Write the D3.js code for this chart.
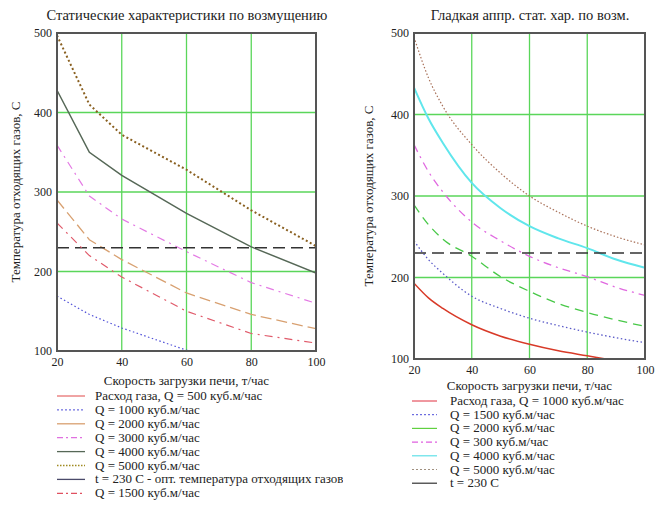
<!DOCTYPE html>
<html>
<head>
<meta charset="utf-8">
<script src="https://cdn.jsdelivr.net/npm/d3@7"></script>
<style>
  html, body { margin: 0; padding: 0; background: #fff; }
  svg text { font-family: "Liberation Serif", "Times New Roman", "DejaVu Serif", serif !important; }
</style>
</head>
<body>
<svg id="chart" width="663" height="527"></svg>
<script>
// Load rate of the furnace, t/h
const xTicks = [20, 40, 60, 80, 100];
const yTicks = [100, 200, 300, 400, 500];
const optimalTemp = 230;

// Left panel: static characteristics (piecewise linear)
const loadLeft = [20, 30, 40, 60, 80, 100];
const leftQ500 = [92, 82, 74, 62, 54, 48];
const leftQ1000 = [169, 146, 129, 101, 84, 72];
const leftQ2000 = [290, 240, 215, 173, 146, 128];
const leftQ3000 = [359, 295, 266, 225, 186, 160];
const leftQ4000 = [428, 350, 321, 273, 231, 198];
const leftQ5000 = [497, 410, 372, 328, 277, 232];
const leftQ1500 = [261, 220, 193, 150, 122, 110];

// Right panel: smooth approximation
const loadRight = [20, 25, 30, 40, 50, 60, 70, 80, 90, 100];
const rightQ1000 = [193, 175, 162, 142, 128, 118, 110, 104, 98, 94];
const rightQ1500 = [245, 222, 205, 177, 162, 150, 141, 133, 126, 120];
const rightQ2000 = [289, 265, 247, 226, 201, 183, 168, 157, 148, 140];
const rightQ3000 = [363, 330, 305, 268, 245, 226, 212, 201, 188, 178];
const rightQ4000 = [433, 395, 365, 316, 285, 263, 248, 236, 222, 212];
const rightQ5000 = [495, 445, 410, 363, 328, 300, 280, 263, 250, 240];

const leftLabels = [
  "Расход газа, Q = 500 куб.м/час",
  "Q = 1000 куб.м/час",
  "Q = 2000 куб.м/час",
  "Q = 3000 куб.м/час",
  "Q = 4000 куб.м/час",
  "Q = 5000 куб.м/час",
  "t = 230 C - опт. температура отходящих газов",
  "Q = 1500 куб.м/час"
];
const rightLabels = [
  "Расход газа, Q = 1000 куб.м/час",
  "Q = 1500 куб.м/час",
  "Q = 2000 куб.м/час",
  "Q = 300 куб.м/час",
  "Q = 4000 куб.м/час",
  "Q = 5000 куб.м/час",
  "t = 230 C"
];

const svg = d3.select("#chart");

const panels = [
  {
    id: "L",
    title: "Статические характеристики по возмущению",
    titleX: 187,
    x0: 57, x1: 316, y0: 351, y1: 33,
    curve: d3.curveLinear,
    loads: loadLeft,
    series: [
      { v: leftQ500, color: "#e04040", w: 1, dash: null },
      { v: leftQ1000, color: "#5050d8", w: 1.2, dash: "1.5,2.5" },
      { v: leftQ2000, color: "#d8a070", w: 1.3, dash: "11,5" },
      { v: leftQ3000, color: "#e47ae4", w: 1.2, dash: "8,5,2,5" },
      { v: leftQ4000, color: "#566857", w: 1.5, dash: null },
      { v: leftQ5000, color: "#8a6020", w: 2, dash: "2,2.5" },
      { v: null, color: "#333", w: 1.5, dash: "12,6" },
      { v: leftQ1500, color: "#e05a6a", w: 1.2, dash: "8,5,2,5" }
    ],
    legendStyles: [
      { color: "#e04848", w: 1, dash: null },
      { color: "#4a4ad8", w: 1, dash: "2,2" },
      { color: "#d8a070", w: 1.3, dash: null },
      { color: "#e070e0", w: 1.2, dash: "6,3,2,3" },
      { color: "#566857", w: 1.3, dash: null },
      { color: "#a08a20", w: 1.5, dash: "1.5,1.5" },
      { color: "#4a4a6a", w: 1.3, dash: null },
      { color: "#e05060", w: 1.2, dash: "6,3,2,3" }
    ],
    labels: leftLabels,
    yLabelX: 20,
    xLabelY: 385,
    legendY: 400, legendStep: 13.9,
    lineX0: 57, lineX1: 85, textX: 95, clipW: 343
  },
  {
    id: "R",
    title: "Гладкая аппр. стат. хар. по возм.",
    titleX: 530,
    x0: 414, x1: 645, y0: 359, y1: 33,
    curve: d3.curveMonotoneX,
    loads: loadRight,
    series: [
      { v: rightQ1000, color: "#d83a28", w: 1.5, dash: null },
      { v: rightQ1500, color: "#5a5ac8", w: 1.3, dash: "1.5,2.5" },
      { v: rightQ2000, color: "#48c848", w: 1.3, dash: "9,6" },
      { v: rightQ3000, color: "#e068e0", w: 1.3, dash: "8,5,2,5" },
      { v: rightQ4000, color: "#60e6ec", w: 2, dash: null },
      { v: rightQ5000, color: "#a87058", w: 1.2, dash: "1.5,2" },
      { v: null, color: "#333", w: 1.5, dash: "12,6" }
    ],
    legendStyles: [
      { color: "#e03040", w: 1, dash: null },
      { color: "#4a4ad8", w: 1, dash: "2,2" },
      { color: "#60d040", w: 1.2, dash: null },
      { color: "#e060e0", w: 1.2, dash: "6,3,2,3" },
      { color: "#60e0e8", w: 1.2, dash: null },
      { color: "#a09080", w: 1, dash: "2,2" },
      { color: "#333", w: 1.2, dash: null }
    ],
    labels: rightLabels,
    yLabelX: 373,
    xLabelY: 390,
    legendY: 405, legendStep: 13.7,
    lineX0: 412, lineX1: 437, textX: 450, clipW: 663
  }
];

panels.forEach(p => {
  const x = d3.scaleLinear().domain([20, 100]).range([p.x0, p.x1]);
  const y = d3.scaleLinear().domain([100, 500]).range([p.y0, p.y1]);
  const g = svg.append("g");

  // clip region for the plot area
  svg.append("clipPath").attr("id", "clip" + p.id)
    .append("rect").attr("x", p.x0).attr("y", p.y1)
    .attr("width", p.x1 - p.x0).attr("height", p.y0 - p.y1);

  // title
  g.append("text").attr("x", p.titleX).attr("y", 20)
    .attr("text-anchor", "middle").attr("font-size", 14.5).attr("fill", "#222")
    .text(p.title);

  // grid
  g.append("g").selectAll("line").data(xTicks.slice(1, -1)).join("line")
    .attr("x1", d => x(d)).attr("x2", d => x(d))
    .attr("y1", p.y1).attr("y2", p.y0)
    .attr("stroke", "#5ad65a").attr("stroke-width", 1.3);
  g.append("g").selectAll("line").data(yTicks.slice(1, -1)).join("line")
    .attr("x1", p.x0).attr("x2", p.x1)
    .attr("y1", d => y(d)).attr("y2", d => y(d))
    .attr("stroke", "#5ad65a").attr("stroke-width", 1.3);

  // axes (labels only; frame drawn separately)
  const xAxis = g.append("g").attr("transform", `translate(0,${p.y0})`)
    .call(d3.axisBottom(x).tickValues(xTicks).tickSize(0).tickPadding(6));
  const yAxis = g.append("g").attr("transform", `translate(${p.x0},0)`)
    .call(d3.axisLeft(y).tickValues(yTicks).tickSize(0).tickPadding(5));
  [xAxis, yAxis].forEach(a => {
    a.select(".domain").remove();
    a.selectAll("text").attr("font-size", 12).attr("fill", "#222");
  });

  // series
  const plot = g.append("g").attr("clip-path", `url(#clip${p.id})`);
  const line = d3.line().x((d, i) => x(p.loads[i])).y(d => y(d)).curve(p.curve);
  p.series.forEach(s => {
    if (s.v) {
      plot.append("path").attr("d", line(s.v))
        .attr("fill", "none").attr("stroke", s.color)
        .attr("stroke-width", s.w).attr("stroke-dasharray", s.dash);
    } else {
      plot.append("line")
        .attr("x1", p.x0).attr("x2", p.x1)
        .attr("y1", y(optimalTemp)).attr("y2", y(optimalTemp))
        .attr("stroke", s.color).attr("stroke-width", s.w)
        .attr("stroke-dasharray", s.dash);
    }
  });

  // frame
  g.append("rect").attr("x", p.x0).attr("y", p.y1)
    .attr("width", p.x1 - p.x0).attr("height", p.y0 - p.y1)
    .attr("fill", "none").attr("stroke", "#555").attr("stroke-width", 2);

  // axis titles
  g.append("text")
    .attr("transform", `translate(${p.yLabelX},${(p.y0 + p.y1) / 2}) rotate(-90)`)
    .attr("text-anchor", "middle").attr("font-size", 13).attr("fill", "#222")
    .text("Температура отходящих газов, С");
  g.append("text").attr("x", (p.x0 + p.x1) / 2).attr("y", p.xLabelY)
    .attr("text-anchor", "middle").attr("font-size", 13).attr("fill", "#222")
    .text("Скорость загрузки печи, т/час");

  // legend
  svg.append("clipPath").attr("id", "lclip" + p.id)
    .append("rect").attr("x", 0).attr("y", 0).attr("width", p.clipW).attr("height", 527);
  const lg = g.append("g").attr("clip-path", `url(#lclip${p.id})`);
  p.labels.forEach((lab, i) => {
    const st = p.legendStyles[i];
    const yy = p.legendY + i * p.legendStep;
    lg.append("line").attr("x1", p.lineX0).attr("x2", p.lineX1)
      .attr("y1", yy - 4).attr("y2", yy - 4)
      .attr("stroke", st.color).attr("stroke-width", st.w)
      .attr("stroke-dasharray", st.dash);
    lg.append("text").attr("x", p.textX).attr("y", yy)
      .attr("font-size", 13).attr("fill", "#222").text(lab);
  });
});
</script>
</body>
</html>
